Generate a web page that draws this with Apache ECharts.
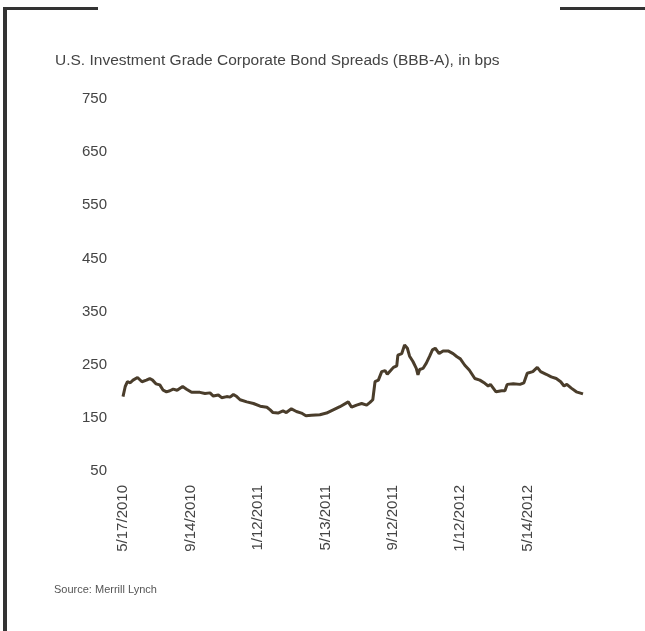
<!DOCTYPE html>
<html>
<head>
<meta charset="utf-8">
<title>BBB-A spreads</title>
<script src="https://cdn.jsdelivr.net/npm/echarts@6/dist/echarts.min.js"></script>
<style>
  html, body { margin: 0; padding: 0; background: #fff; }
  #chart { width: 645px; height: 631px; }
</style>
</head>
<body>
<div id="chart"></div>
<script>
// days since 5/17/2010 and spread in bps
const dayOffsets = [
  0, 4, 8, 13, 18, 26, 34, 42, 48, 53, 59, 66, 72, 78, 84, 90, 97, 107, 114, 123,
  138, 147, 156, 162, 171, 177, 186, 192, 198, 204, 210, 222, 234, 246, 258, 264, 269, 278, 287, 293,
  302, 311, 320, 328, 338, 353, 365, 377, 389, 404, 410, 419, 428, 437, 443, 448, 452, 458, 464, 470,
  474, 480, 485, 491, 493, 500, 505, 510, 514, 520, 526, 529, 532, 538, 544, 550, 555, 560, 567, 574,
  583, 592, 599, 605, 613, 621, 631, 640, 649, 655, 659, 669, 679, 685, 689, 700, 712, 719, 725, 735,
  743, 749, 759, 768, 777, 785, 791, 796, 804, 813, 825
]
const spreads = [
  190, 209, 218, 216, 221, 226, 218, 221, 224, 221, 214, 212, 202, 199, 201, 204, 202, 209, 204, 198,
  198, 196, 197, 191, 193, 188, 190, 189, 194, 190, 184, 180, 177, 172, 170, 165, 160, 159, 163, 160,
  167, 162, 159, 154, 155, 156, 159, 165, 171, 180, 170, 174, 177, 174, 179, 184, 218, 221, 237, 239,
  232, 239, 245, 248, 268, 271, 287, 281, 266, 256, 243, 231, 241, 243, 253, 266, 278, 281, 271, 276,
  276, 271, 265, 261, 249, 240, 224, 221, 215, 210, 213, 199, 201, 201, 213, 214, 213, 216, 234, 237,
  245, 237, 232, 227, 224, 218, 210, 213, 206, 199, 195
]
const tickLabels = ['5/17/2010', '9/14/2010', '1/12/2011', '5/13/2011', '9/12/2011', '1/12/2012', '5/14/2012']
const tickStep = 121 // days between labels

// no narrow face available, so Liberation Sans a bit smaller to keep widths
const font = '"Liberation Sans Narrow", "Arial Narrow", "Liberation Sans", Arial, sans-serif'

const chart = echarts.init(document.getElementById('chart'))

chart.setOption({
  animation: false,
  textStyle: { fontFamily: font },
  title: [
    {
      text: 'U.S. Investment Grade Corporate Bond Spreads (BBB-A), in bps',
      left: 55,
      top: 53,
      padding: 0,
      textStyle: { fontSize: 15.5, fontWeight: 'normal', color: '#444', fontFamily: font }
    },
    {
      text: 'Source: Merrill Lynch',
      left: 54,
      top: 584,
      padding: 0,
      textStyle: { fontSize: 11, fontWeight: 'normal', color: '#555', fontFamily: font }
    }
  ],
  graphic: [
    { type: 'rect', shape: { x: 3, y: 7, width: 4, height: 624 }, style: { fill: '#333' } },
    { type: 'rect', shape: { x: 3, y: 7, width: 95, height: 3 }, style: { fill: '#333' } },
    { type: 'rect', shape: { x: 560, y: 7, width: 85, height: 3 }, style: { fill: '#333' } }
  ],
  grid: { left: 123, top: 99, width: 460, height: 372, containLabel: false },
  xAxis: {
    type: 'value',
    min: 0,
    max: 825,
    interval: tickStep,
    axisLine: { show: false },
    axisTick: { show: false },
    splitLine: { show: false },
    axisLabel: {
      rotate: 90,
      margin: 14,
      fontSize: 15,
      color: '#444',
      fontFamily: font,
      showMaxLabel: false,
      formatter: v => (v % tickStep === 0 ? (tickLabels[v / tickStep] || '') : '')
    }
  },
  yAxis: {
    type: 'value',
    min: 50,
    max: 750,
    interval: 100,
    axisLine: { show: false },
    axisTick: { show: false },
    splitLine: { show: false },
    axisLabel: { margin: 16, fontSize: 15, color: '#444', fontFamily: font }
  },
  series: [{
    type: 'line',
    data: dayOffsets.map((d, i) => [d, spreads[i]]),
    showSymbol: false,
    lineStyle: { color: '#4a3d2b', width: 3 },
    itemStyle: { color: '#4a3d2b' }
  }]
})
</script>
</body>
</html>
